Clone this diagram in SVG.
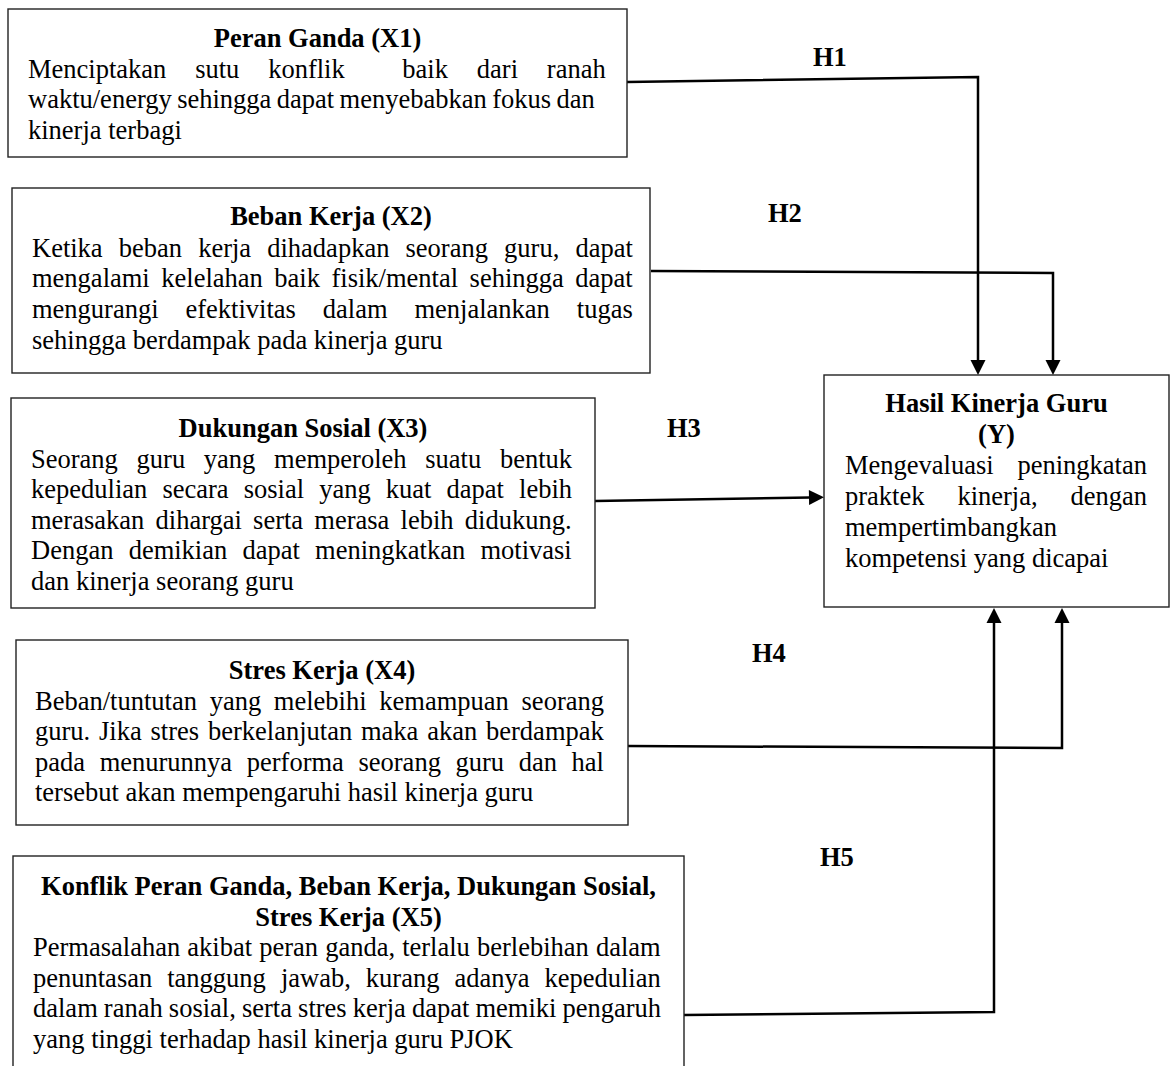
<svg xmlns="http://www.w3.org/2000/svg" width="1173" height="1066" viewBox="0 0 1173 1066">
<style>
  .box { fill: #ffffff; stroke: #222222; stroke-width: 1.4; }
  .t { font-family: "Liberation Serif", "Times New Roman", serif; font-size: 26.5px; fill: #000000; }
  .b { font-weight: bold; }
  .c { text-anchor: middle; }
  .conn { fill: none; stroke: #000000; stroke-width: 2.5; stroke-linejoin: miter; marker-end: url(#arrow); }
</style>
<defs>
  <marker id="arrow" markerUnits="userSpaceOnUse" markerWidth="15" markerHeight="15" refX="1" refY="7.5" orient="auto" overflow="visible">
    <path d="M0,0 L15,7.5 L0,15 Z" fill="#000000"/>
  </marker>
</defs>
<rect width="1173" height="1066" fill="#ffffff"/>

<g id="connectors">
  <path class="conn" d="M627,82 L978,77 L978,361"/>
  <path class="conn" d="M651,271 L1053,273 L1053,361"/>
  <path class="conn" d="M595,501 L810,497.5"/>
  <path class="conn" d="M628,746 L1062,748 L1062,622"/>
  <path class="conn" d="M684,1015 L994,1012 L994,622"/>
  <text class="t b" x="813" y="66">H1</text>
  <text class="t b" x="768" y="222">H2</text>
  <text class="t b" x="667" y="437">H3</text>
  <text class="t b" x="752" y="662">H4</text>
  <text class="t b" x="820" y="866">H5</text>
</g>

<g id="x1">
  <rect class="box" x="8" y="9" width="619" height="148"/>
  <text class="t b c" x="317.5" y="46.5">Peran Ganda (X1)</text>
  <text class="t" x="28" y="77.5" xml:space="preserve" word-spacing="22.2">Menciptakan sutu konflik  baik dari ranah</text>
  <text class="t" x="28" y="108" word-spacing="-1.2">waktu/energy sehingga dapat menyebabkan fokus dan</text>
  <text class="t" x="28" y="138.5">kinerja terbagi</text>
</g>

<g id="x2">
  <rect class="box" x="12" y="188" width="638" height="185"/>
  <text class="t b c" x="331" y="225">Beban Kerja (X2)</text>
  <text class="t" x="32" y="256.5" word-spacing="9.5">Ketika beban kerja dihadapkan seorang guru, dapat</text>
  <text class="t" x="32" y="287" word-spacing="4.9">mengalami kelelahan baik fisik/mental sehingga dapat</text>
  <text class="t" x="32" y="317.5" word-spacing="20.3">mengurangi efektivitas dalam menjalankan tugas</text>
  <text class="t" x="32" y="348.5">sehingga berdampak pada kinerja guru</text>
</g>

<g id="x3">
  <rect class="box" x="11" y="398" width="584" height="210"/>
  <text class="t b c" x="303" y="436.5">Dukungan Sosial (X3)</text>
  <text class="t" x="31" y="467.5" word-spacing="12.1">Seorang guru yang memperoleh suatu bentuk</text>
  <text class="t" x="31" y="498" word-spacing="8.5">kepedulian secara sosial yang kuat dapat lebih</text>
  <text class="t" x="31" y="528.5" word-spacing="4.6">merasakan dihargai serta merasa lebih didukung.</text>
  <text class="t" x="31" y="559" word-spacing="8.6">Dengan demikian dapat meningkatkan motivasi</text>
  <text class="t" x="31" y="589.5">dan kinerja seorang guru</text>
</g>

<g id="y">
  <rect class="box" x="824" y="375" width="345" height="232"/>
  <text class="t b c" x="996.5" y="412">Hasil Kinerja Guru</text>
  <text class="t b c" x="996.5" y="442.5">(Y)</text>
  <text class="t" x="845" y="474" word-spacing="17.2">Mengevaluasi peningkatan</text>
  <text class="t" x="845" y="505" word-spacing="26.3">praktek kinerja, dengan</text>
  <text class="t" x="845" y="536">mempertimbangkan</text>
  <text class="t" x="845" y="567">kompetensi yang dicapai</text>
</g>

<g id="x4">
  <rect class="box" x="16" y="640" width="612" height="185"/>
  <text class="t b c" x="322" y="678.5">Stres Kerja (X4)</text>
  <text class="t" x="35" y="709.5" word-spacing="6.1">Beban/tuntutan yang melebihi kemampuan seorang</text>
  <text class="t" x="35" y="740" word-spacing="2.2">guru. Jika stres berkelanjutan maka akan berdampak</text>
  <text class="t" x="35" y="770.5" word-spacing="8">pada menurunnya performa seorang guru dan hal</text>
  <text class="t" x="35" y="801">tersebut akan mempengaruhi hasil kinerja guru</text>
</g>

<g id="x5">
  <rect class="box" x="13" y="856" width="671" height="240"/>
  <text class="t b c" x="348.5" y="895">Konflik Peran Ganda, Beban Kerja, Dukungan Sosial,</text>
  <text class="t b c" x="348.5" y="925.5">Stres Kerja (X5)</text>
  <text class="t" x="33" y="956" word-spacing="0.5">Permasalahan akibat peran ganda, terlalu berlebihan dalam</text>
  <text class="t" x="33" y="986.5" word-spacing="8.4">penuntasan tanggung jawab, kurang adanya kepedulian</text>
  <text class="t" x="33" y="1017" word-spacing="-0.5">dalam ranah sosial, serta stres kerja dapat memiki pengaruh</text>
  <text class="t" x="33" y="1047.5">yang tinggi terhadap hasil kinerja guru PJOK</text>
</g>
</svg>
